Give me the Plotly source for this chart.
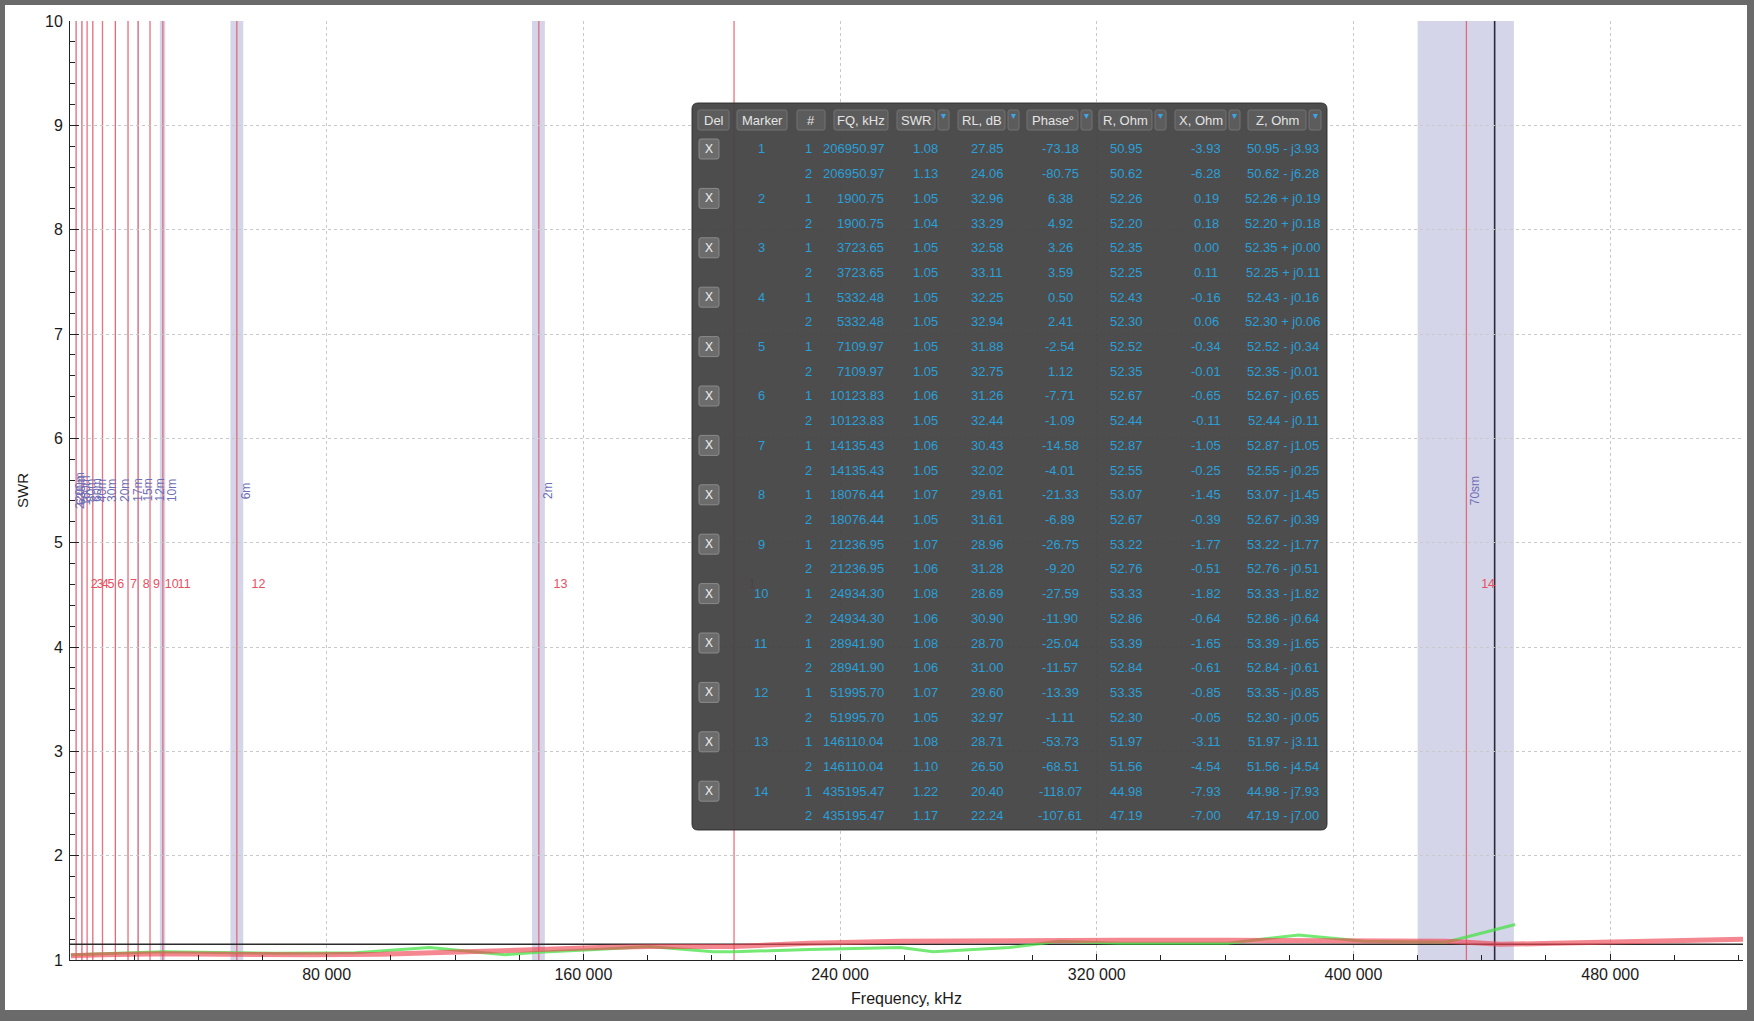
import plotly.graph_objects as go

# ---------------- data ----------------
x_tick_vals = [80000, 160000, 240000, 320000, 400000, 480000]
x_tick_text = ["80 000", "160 000", "240 000", "320 000", "400 000", "480 000"]

# SWR curve #1 (green)
freq_s1 = [300, 1900, 10000, 21000, 29000, 40000, 52000, 64000, 89000, 112000, 135500, 146000,
           164000, 180500, 200500, 207000, 230500, 258800, 269000, 292800, 308100, 326900,
           360800, 382900, 403200, 428700, 435200, 450400]
swr_s1 = [1.05, 1.05, 1.06, 1.07, 1.08, 1.075, 1.07, 1.065, 1.07, 1.12, 1.05, 1.075,
          1.10, 1.13, 1.08, 1.08, 1.10, 1.12, 1.08, 1.12, 1.18, 1.16,
          1.16, 1.24, 1.18, 1.17, 1.22, 1.34]

# SWR curve #2 (red)
freq_s2 = [300, 1900, 10000, 29000, 52000, 75000, 97000, 130500, 146000, 165000, 180500, 207000,
           230500, 258800, 292800, 326900, 360800, 400000, 428700, 435200, 445700, 462500,
           490000, 521400]
swr_s2 = [1.04, 1.04, 1.05, 1.06, 1.05, 1.05, 1.055, 1.08, 1.10, 1.12, 1.13, 1.13,
          1.16, 1.18, 1.19, 1.19, 1.19, 1.19, 1.18, 1.17, 1.15, 1.16,
          1.18, 1.20]

band_names = ["2200m", "630m", "160m", "80m", "60m", "40m", "30m", "20m", "17m", "15m",
              "12m", "10m", "6m", "2m", "70sm"]
band_lo = [135.7, 472, 1810, 3500, 5351.5, 7000, 10100, 14000, 18068, 21000,
           24890, 28000, 50000, 144000, 420000]
band_hi = [137.8, 479, 2000, 3800, 5366.5, 7200, 10150, 14350, 18168, 21450,
           24990, 29700, 54000, 148000, 450000]

cursor_freq = 444000
ref_swr = 1.15

# marker table
marker_ids = list(range(1, 15))
marker_freq = [206950.97, 1900.75, 3723.65, 5332.48, 7109.97, 10123.83, 14135.43, 18076.44,
               21236.95, 24934.30, 28941.90, 51995.70, 146110.04, 435195.47]
swr_1 = [1.08, 1.05, 1.05, 1.05, 1.05, 1.06, 1.06, 1.07, 1.07, 1.08, 1.08, 1.07, 1.08, 1.22]
swr_2 = [1.13, 1.04, 1.05, 1.05, 1.05, 1.05, 1.05, 1.05, 1.06, 1.06, 1.06, 1.05, 1.10, 1.17]
rl_1 = [27.85, 32.96, 32.58, 32.25, 31.88, 31.26, 30.43, 29.61, 28.96, 28.69, 28.70, 29.60, 28.71, 20.40]
rl_2 = [24.06, 33.29, 33.11, 32.94, 32.75, 32.44, 32.02, 31.61, 31.28, 30.90, 31.00, 32.97, 26.50, 22.24]
phase_1 = [-73.18, 6.38, 3.26, 0.50, -2.54, -7.71, -14.58, -21.33, -26.75, -27.59, -25.04, -13.39, -53.73, -118.07]
phase_2 = [-80.75, 4.92, 3.59, 2.41, 1.12, -1.09, -4.01, -6.89, -9.20, -11.90, -11.57, -1.11, -68.51, -107.61]
r_1 = [50.95, 52.26, 52.35, 52.43, 52.52, 52.67, 52.87, 53.07, 53.22, 53.33, 53.39, 53.35, 51.97, 44.98]
r_2 = [50.62, 52.20, 52.25, 52.30, 52.35, 52.44, 52.55, 52.67, 52.76, 52.86, 52.84, 52.30, 51.56, 47.19]
x_1 = [-3.93, 0.19, 0.00, -0.16, -0.34, -0.65, -1.05, -1.45, -1.77, -1.82, -1.65, -0.85, -3.11, -7.93]
x_2 = [-6.28, 0.18, 0.11, 0.06, -0.01, -0.11, -0.25, -0.39, -0.51, -0.64, -0.61, -0.05, -4.54, -7.00]
header_labels = ["Del", "Marker", "#", "FQ, kHz", "SWR", "RL, dB", "Phase°", "R, Ohm", "X, Ohm", "Z, Ohm"]

# ---------------- layout geometry ----------------
W, H = 1754, 1021
PL, PR, PT, PB = 70, 1743, 21, 960
PW, PH = PR - PL, PB - PT
X_MAX = 521400


def px(x):
    return (x - PL) / PW


def py(y):
    return (PB - y) / PH


AX_FONT = "Liberation Sans, Arial, sans-serif"
GREEN = "rgba(70,225,70,0.75)"
RED = "rgba(240,70,85,0.65)"
MARK = "rgba(228,80,96,0.8)"
BLUE_TXT = "#2a9fd8"

fig = go.Figure()
fig.add_trace(go.Scatter(x=freq_s1, y=swr_s1, mode="lines", line=dict(color=GREEN, width=3),
                         hoverinfo="skip", showlegend=False))
fig.add_trace(go.Scatter(x=freq_s2, y=swr_s2, mode="lines", line=dict(color=RED, width=5),
                         hoverinfo="skip", showlegend=False))
# marker labels (as a trace so the table can cover them)
fig.add_trace(go.Scatter(x=marker_freq, y=[4.6] * len(marker_freq), mode="markers+text",
                         text=[str(m) for m in marker_ids], textposition="middle right",
                         marker=dict(size=22, opacity=0),
                         textfont=dict(color="#e8505f", size=12.5, family=AX_FONT),
                         hoverinfo="skip", showlegend=False, cliponaxis=False))

shapes = []
annotations = []

# band shading + labels
for name, lo, hi in zip(band_names, band_lo, band_hi):
    shapes.append(dict(type="rect", xref="x", yref="paper", x0=lo, x1=hi, y0=0, y1=1,
                       fillcolor="rgba(172,172,214,0.5)", line=dict(width=0), layer="below"))
    annotations.append(dict(x=(lo + hi) / 2, y=5.5, xref="x", yref="y", text=name, showarrow=False,
                            textangle=-90, xshift=9, font=dict(size=12, color="#6e6eb4", family=AX_FONT)))

# marker lines
for f in marker_freq:
    shapes.append(dict(type="line", xref="x", yref="paper", x0=f, x1=f, y0=0, y1=1,
                       line=dict(color=MARK, width=1.3), layer="below"))

# reference / cursor lines
shapes.append(dict(type="line", xref="paper", yref="y", x0=0, x1=1, y0=ref_swr, y1=ref_swr,
                   line=dict(color="#2b2b2b", width=1.5), layer="below"))
shapes.append(dict(type="line", xref="x", yref="paper", x0=cursor_freq, x1=cursor_freq, y0=0, y1=1,
                   line=dict(color="#2a2a38", width=1.6), layer="below"))


# ---------------- marker table ----------------
def rrect_path(x0, y0, x1, y1, r):
    rx = r / PW
    ry = r / PH
    a0, a1 = px(x0), px(x1)
    b0, b1 = py(y1), py(y0)
    return (f"M {a0+rx},{b1} L {a1-rx},{b1} Q {a1},{b1} {a1},{b1-ry} "
            f"L {a1},{b0+ry} Q {a1},{b0} {a1-rx},{b0} L {a0+rx},{b0} "
            f"Q {a0},{b0} {a0},{b0+ry} L {a0},{b1-ry} Q {a0},{b1} {a0+rx},{b1} Z")


TX0, TX1, TY0, TY1 = 692, 1327, 103, 830
shapes.append(dict(type="path", xref="paper", yref="paper", path=rrect_path(TX0, TY0, TX1, TY1, 6),
                   fillcolor="rgba(66,66,66,0.94)", line=dict(color="rgba(40,40,40,0.9)", width=1),
                   layer="above"))

HDR_Y0, HDR_Y1 = 110, 130
hdr_geom = [(698, 729, None), (737, 787, None), (797, 825, None), (834, 888, None),
            (897, 935, (938, 949)), (958, 1005, (1008, 1019)), (1027, 1078, (1081, 1092)),
            (1099, 1152, (1155, 1166)), (1175, 1226, (1229, 1240)), (1248, 1306, (1309, 1321))]
for label, (x0, x1, dd) in zip(header_labels, hdr_geom):
    shapes.append(dict(type="path", xref="paper", yref="paper", path=rrect_path(x0, HDR_Y0, x1, HDR_Y1, 2),
                       fillcolor="#5c5c5c", line=dict(color="#737373", width=1), layer="above"))
    annotations.append(dict(x=px((x0 + x1) / 2), y=py((HDR_Y0 + HDR_Y1) / 2), xref="paper", yref="paper",
                            text=label, showarrow=False, xanchor="center", yanchor="middle",
                            font=dict(size=13, color="#e4e4e4", family=AX_FONT)))
    if dd:
        shapes.append(dict(type="path", xref="paper", yref="paper",
                           path=rrect_path(dd[0], HDR_Y0, dd[1], HDR_Y1, 2),
                           fillcolor="#5c5c5c", line=dict(color="#737373", width=1), layer="above"))
        annotations.append(dict(x=px((dd[0] + dd[1]) / 2), y=py(HDR_Y0 + 6), xref="paper", yref="paper",
                                text="▾", showarrow=False, xanchor="center", yanchor="middle",
                                font=dict(size=10, color="#3aa6e6", family=AX_FONT)))

ROW0, ROW_STEP = 149, 24.7
col_center = {"marker": 761, "num": 808, "swr": 925, "rl": 987, "phase": 1060,
              "r": 1126, "x": 1206, "z": 1283}
FQ_RIGHT = 886


def zstr(r, x):
    sign = "-" if x < 0 else "+"
    return f"{r:.2f} {sign} j{abs(x):.2f}"


def add_txt(x, y, text, anchor="center", color=BLUE_TXT, size=13):
    annotations.append(dict(x=px(x), y=py(y), xref="paper", yref="paper", text=text, showarrow=False,
                            xanchor=anchor, yanchor="middle", font=dict(size=size, color=color, family=AX_FONT)))


for i, m in enumerate(marker_ids):
    rows = [(1, swr_1[i], rl_1[i], phase_1[i], r_1[i], x_1[i]),
            (2, swr_2[i], rl_2[i], phase_2[i], r_2[i], x_2[i])]
    for j, (n, s, rl, ph, rr, xx) in enumerate(rows):
        yy = ROW0 + (2 * i + j) * ROW_STEP
        if j == 0:
            shapes.append(dict(type="path", xref="paper", yref="paper",
                               path=rrect_path(699, yy - 10, 719, yy + 10, 2),
                               fillcolor="#6c6c6c", line=dict(color="#8a8a8a", width=1), layer="above"))
            add_txt(709, yy, "X", color="#f0f0f0", size=12)
            add_txt(col_center["marker"], yy, str(m))
        add_txt(col_center["num"], yy, str(n))
        add_txt(FQ_RIGHT, yy, f"{marker_freq[i]:.2f}", anchor="right")
        add_txt(col_center["swr"], yy, f"{s:.2f}")
        add_txt(col_center["rl"], yy, f"{rl:.2f}")
        add_txt(col_center["phase"], yy, f"{ph:.2f}")
        add_txt(col_center["r"], yy, f"{rr:.2f}")
        add_txt(col_center["x"], yy, f"{xx:.2f}")
        add_txt(col_center["z"], yy, zstr(rr, xx))

# ---------------- gray window frame ----------------
FRAME = "#6a6a6a"
for (x0, y0, x1, y1) in [(0, 0, W, 5), (0, 0, 5, H), (W - 7, 0, W, H), (0, H - 11, W, H)]:
    shapes.append(dict(type="rect", xref="paper", yref="paper", x0=px(x0), x1=px(x1), y0=py(y1), y1=py(y0),
                       fillcolor=FRAME, line=dict(width=0), layer="above"))

fig.update_layout(
    width=W, height=H,
    margin=dict(l=PL, r=W - PR, t=PT, b=H - PB, pad=0),
    paper_bgcolor="white", plot_bgcolor="white",
    font=dict(family=AX_FONT, size=16, color="#1a1a1a"),
    showlegend=False,
    hovermode=False,
    shapes=shapes,
    annotations=annotations,
    xaxis=dict(range=[0, X_MAX], tickmode="array", tickvals=x_tick_vals, ticktext=x_tick_text,
               showline=True, linecolor="#222", linewidth=1, ticks="inside", ticklen=6, tickcolor="#222",
               showgrid=True, gridcolor="#c9c9c9", griddash="dot", gridwidth=1, zeroline=False,
               minor=dict(tickmode="linear", tick0=0, dtick=20000, ticks="inside", ticklen=5,
                          tickcolor="#222", showgrid=False),
               tickfont=dict(size=16, color="#1a1a1a"),
               title=dict(text="Frequency, kHz", font=dict(size=16, color="#1a1a1a"), standoff=10)),
    yaxis=dict(range=[1, 10], tickmode="linear", tick0=1, dtick=1,
               showline=True, linecolor="#222", linewidth=1, ticks="inside", ticklen=9, tickcolor="#222",
               showgrid=True, gridcolor="#c9c9c9", griddash="dot", gridwidth=1, zeroline=False,
               minor=dict(tickmode="linear", tick0=1, dtick=0.2, ticks="inside", ticklen=5,
                          tickcolor="#222", showgrid=False),
               tickfont=dict(size=16, color="#1a1a1a"), ticklabelstandoff=3,
               title=dict(text="SWR", font=dict(size=15, color="#1a1a1a"), standoff=12)),
)

fig.write_html("out.html", config={"displayModeBar": False},
               post_script="document.body.style.margin='0px';document.body.style.overflow='hidden';")
